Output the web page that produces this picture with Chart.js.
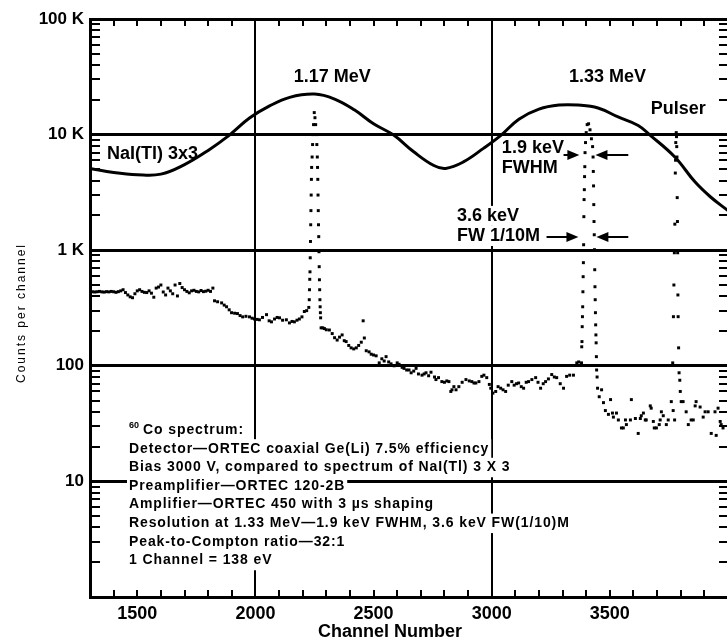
<!DOCTYPE html>
<html>
<head>
<meta charset="utf-8">
<script src="https://cdn.jsdelivr.net/npm/chart.js@4.4.1/dist/chart.umd.min.js"></script>
<style>
  html, body { margin: 0; padding: 0; background: #fff; overflow: hidden; }
  canvas { display: block; }
</style>
</head>
<body>
<canvas id="spectrum" width="732" height="641"></canvas>
<script>
// NaI(Tl) 3x3 spectrum
const naiChannels = [1300, 1400, 1500, 1600, 1700, 1800, 1890, 1975, 2060, 2145, 2250, 2335, 2420, 2500, 2585, 2670,
  2755, 2805, 2880, 2965, 3040, 3115, 3200, 3285, 3365, 3450, 3535, 3620, 3670, 3775, 3860, 3925, 4000];
const naiCounts = [5100, 4700, 4500, 4550, 5500, 7300, 9900, 13900, 17700, 21000, 22400, 20300, 16300, 12400, 9900, 7100,
  5400, 5100, 5800, 7600, 9900, 13600, 16600, 18000, 18000, 17000, 14200, 12000, 9900, 6400, 3900, 2900, 2200];

// Ge(Li) spectrum, dots read channel by channel
const geChannels = [
  1300, 1310, 1320, 1330, 1340, 1350, 1360, 1370, 1380, 1390, 1400, 1410, 1420, 1430, 1440, 1450, 1460, 1470, 1480, 1490,
  1500, 1510, 1520, 1530, 1540, 1550, 1560, 1570, 1580, 1590, 1600, 1610, 1620, 1630, 1640, 1650, 1660, 1670, 1680, 1690,
  1700, 1710, 1720, 1730, 1740, 1750, 1760, 1770, 1780, 1790, 1800, 1810, 1820,
  1827, 1840, 1857, 1868, 1878, 1889, 1899, 1912, 1924, 1935, 1946, 1960, 1975, 1986, 1996, 2007, 2017, 2030, 2047, 2058,
  2068, 2081, 2092, 2102, 2115, 2131, 2144, 2155, 2165, 2176, 2186, 2197, 2207, 2217,
  2226, 2228, 2229, 2230, 2231, 2232, 2233, 2234, 2235, 2236, 2237, 2238, 2240, 2242, 2244, 2246, 2249, 2252, 2255, 2258,
  2260, 2262, 2263, 2264, 2265, 2266, 2267, 2268, 2269, 2270, 2271, 2272, 2273, 2274, 2275, 2276, 2278,
  2285, 2292, 2300, 2313, 2325, 2335, 2346, 2356, 2367, 2376, 2384, 2395, 2405, 2416, 2427, 2437, 2448, 2456, 2461, 2469,
  2481, 2490, 2500, 2511, 2524, 2535, 2545, 2553, 2564, 2574, 2587, 2600, 2608, 2621, 2629, 2640, 2650, 2659, 2670, 2680,
  2690, 2705, 2714, 2722, 2733, 2743, 2758, 2764, 2775, 2789, 2800, 2810, 2819, 2827, 2832, 2840, 2849, 2861, 2875, 2891,
  2905, 2916, 2925, 2933, 2946, 2958, 2967, 2979, 2990, 2996, 3005, 3017, 3027, 3038, 3048, 3059, 3070, 3085, 3095, 3105,
  3114, 3125, 3135, 3146, 3156, 3170, 3186, 3196, 3207, 3218, 3228, 3240, 3254, 3265, 3275, 3290, 3304, 3317, 3330, 3346,
  3360, 3368,
  3380, 3381, 3382, 3383, 3384, 3385, 3386, 3387, 3388, 3389, 3390, 3391, 3392, 3393, 3394, 3395, 3397, 3400, 3404, 3410,
  3416, 3422, 3427, 3429, 3430, 3431, 3432, 3433, 3434, 3435, 3436, 3437, 3438, 3439, 3440, 3441, 3442, 3443, 3444, 3446,
  3448, 3455, 3465, 3473, 3481, 3494, 3503, 3511, 3515, 3528, 3536, 3549, 3557, 3566, 3570, 3587, 3591, 3608, 3620, 3629,
  3633, 3642, 3650, 3654, 3671, 3675, 3684, 3688, 3697, 3709, 3713, 3718, 3726, 3739, 3747, 3760,
  3766, 3768, 3769, 3771, 3773, 3774, 3775, 3777, 3778, 3779, 3781, 3782, 3783, 3784, 3785, 3786, 3787, 3788, 3789, 3791,
  3793, 3796, 3798, 3802, 3810, 3823, 3832, 3844, 3853, 3861, 3865, 3882, 3895, 3903, 3916, 3929, 3945, 3950, 3958, 3967,
  3971, 3979
];
const geCounts = [
  440, 437, 435, 437, 440, 436, 434, 438, 436, 440, 437, 432, 438, 445, 455, 430, 410, 395, 388, 420,
  445, 455, 440, 432, 430, 445, 425, 392, 470, 480, 500, 435, 410, 470, 445, 420, 500, 402, 515, 475,
  455, 440, 428, 445, 450, 440, 436, 448, 438, 442, 450, 440, 470,
  365, 358, 350, 335, 324, 305, 288, 285, 283, 272, 265, 268, 265, 258, 254, 252, 250, 262, 277, 245,
  240, 254, 262, 260, 248, 250, 235, 242, 240, 248, 254, 265, 295, 300,
  320, 373, 455, 560, 650, 860, 1190, 1660, 2200, 3000, 4100, 5200, 6400, 8200, 10000, 12200, 15500, 14000, 12200, 10000,
  8200, 6400, 5200, 4100, 3000, 2200, 1660, 1310, 970, 720, 555, 455, 373, 324, 288, 260, 213,
  213, 210, 205, 204, 190, 175, 167, 177, 185, 165, 162, 150, 143, 140, 143, 150, 160, 245, 174, 135,
  132, 126, 124, 122, 106, 115, 110, 120, 108, 104, 100, 106, 103, 97, 95, 92, 92, 87, 90, 95,
  85, 83, 85, 87, 82, 88, 80, 76, 79, 73, 72, 74, 73, 60, 62, 66, 62, 66, 72, 76,
  74, 73, 71, 71, 73, 81, 83, 79, 69, 64, 58, 60, 66, 64, 62, 60, 68, 73, 68, 70,
  71, 66, 64, 72, 73, 76, 79, 72, 64, 70, 73, 77, 84, 80, 79, 70, 64, 81, 83, 83,
  106, 108,
  106, 146, 162, 218, 266, 324, 437, 590, 780, 1115, 1950, 2740, 3340, 4330, 5280, 6980, 8530, 10400, 12200, 12400,
  11000, 9200, 7870, 6400, 4800, 3600, 2480, 1770, 1360, 1010, 678, 483, 373, 288, 226, 185, 158, 120, 92, 80,
  64, 54, 62, 48, 41, 38, 51, 39, 36, 39, 34, 29, 29, 34, 31, 34, 51, 35, 26, 35,
  37, 39, 34, 34, 45, 43, 33, 29, 29, 31, 34, 40, 37, 31, 34, 49,
  106, 41, 266, 500, 950, 34, 1680, 4650, 6000, 8530, 10400, 9600, 7870, 6400, 2850, 1770, 950, 410, 266, 143,
  87, 75, 60, 49, 49, 40, 31, 34, 34, 45, 49, 44, 36, 40, 40, 26, 40, 25, 43, 33,
  31, 29
];

const xTickValues = [1500, 2000, 2500, 3000, 3500];
const xGridValues = [2000, 3000];
const yTickValues = [1, 10, 100, 1000, 10000, 100000];
const yTickLabels = ['', '10', '100', '1 K', '10 K', '100 K'];

const BOLD = '"Liberation Sans", Arial, sans-serif';

// text placed at (channel, counts)
const peakLabels = [
  { text: '1.17 MeV', ch: 2325, cnt: 31500, align: 'center' },
  { text: '1.33 MeV', ch: 3490, cnt: 31500, align: 'center' },
  { text: 'Pulser', ch: 3789, cnt: 16600, align: 'center' },
  { text: 'NaI(Tl) 3x3', ch: 1372, cnt: 6800, align: 'left' },
  { text: '1.9 keV', ch: 3043, cnt: 7650, align: 'left' },
  { text: 'FWHM', ch: 3043, cnt: 5140, align: 'left' },
  { text: '3.6 keV', ch: 2853, cnt: 1980, align: 'left', bg: true },
  { text: 'FW 1/10M', ch: 2853, cnt: 1327, align: 'left', bg: true }
];

// arrows: from ch1 to tip ch2 at given counts
const arrows = [
  { from: 3304, to: 3371, cnt: 6660 },
  { from: 3578, to: 3439, cnt: 6660 },
  { from: 3232, to: 3367, cnt: 1300 },
  { from: 3578, to: 3443, cnt: 1300 }
];

const infoLines = [
  'Co spectrum:',
  'Detector\u2014ORTEC coaxial Ge(Li) 7.5% efficiency',
  'Bias 3000 V, compared to spectrum of NaI(Tl) 3 X 3',
  'Preamplifier\u2014ORTEC 120-2B',
  'Amplifier\u2014ORTEC 450 with 3 \u00b5s shaping',
  'Resolution at 1.33 MeV\u20141.9 keV FWHM, 3.6 keV FW(1/10)M',
  'Peak-to-Compton ratio\u201432:1',
  '1 Channel = 138 eV'
];

function drawArrow(ctx, x1, x2, y) {
  const dir = x2 > x1 ? 1 : -1;
  ctx.beginPath();
  ctx.moveTo(x1, y);
  ctx.lineTo(x2 - dir * 8, y);
  ctx.lineWidth = 2;
  ctx.stroke();
  ctx.beginPath();
  ctx.moveTo(x2, y);
  ctx.lineTo(x2 - dir * 12, y - 5);
  ctx.lineTo(x2 - dir * 12, y + 5);
  ctx.closePath();
  ctx.fill();
}

const decorations = {
  id: 'decorations',
  afterDatasetsDraw(chart) {
    const { ctx, chartArea: area } = chart;
    const x = chart.scales.x, y = chart.scales.y;
    ctx.save();
    ctx.fillStyle = '#000';
    ctx.strokeStyle = '#000';

    // inward minor ticks
    ctx.lineWidth = 2;
    ctx.beginPath();
    for (let c = 1400; c < 4000; c += 100) {
      const px = Math.round(x.getPixelForValue(c));
      ctx.moveTo(px, area.top);
      ctx.lineTo(px, area.top + 7);
      ctx.moveTo(px, area.bottom);
      ctx.lineTo(px, area.bottom - 7);
    }
    for (let d = 1; d < 100000; d *= 10) {
      for (let m = 2; m <= 9; m++) {
        const py = Math.round(y.getPixelForValue(d * m));
        ctx.moveTo(area.left, py);
        ctx.lineTo(area.left + 10, py);
        ctx.moveTo(area.right, py);
        ctx.lineTo(area.right - 9, py);
      }
    }
    ctx.stroke();

    // peak labels
    ctx.font = 'bold 18px ' + BOLD;
    ctx.textBaseline = 'middle';
    peakLabels.forEach(l => {
      const px = x.getPixelForValue(l.ch), py = y.getPixelForValue(l.cnt);
      ctx.textAlign = l.align;
      if (l.bg) {
        const w = ctx.measureText(l.text).width;
        ctx.fillStyle = '#fff';
        ctx.fillRect(px - 3, py - 10, w + 6, 20);
        ctx.fillStyle = '#000';
      }
      ctx.fillText(l.text, px, py);
    });

    arrows.forEach(a => {
      drawArrow(ctx, x.getPixelForValue(a.from), x.getPixelForValue(a.to), Math.round(y.getPixelForValue(a.cnt)));
    });

    // info block
    const left = x.getPixelForValue(1465);
    const top = y.getPixelForValue(27.8);
    ctx.textAlign = 'left';
    ctx.font = 'bold 14px ' + BOLD;
    ctx.letterSpacing = '0.9px';
    infoLines.forEach((line, i) => {
      const ly = top + i * 18.6;
      let lx = left;
      let w = ctx.measureText(line).width;
      if (i === 0) w += 14;
      ctx.fillStyle = '#fff';
      ctx.fillRect(lx - 2, ly - 9.5, w + 4, 19.5);
      ctx.fillStyle = '#000';
      if (i === 0) {
        ctx.font = 'bold 9px ' + BOLD;
        ctx.letterSpacing = '0px';
        ctx.fillText('60', lx, ly - 5);
        ctx.font = 'bold 14px ' + BOLD;
        ctx.letterSpacing = '0.9px';
        lx += 14;
      }
      ctx.fillText(line, lx, ly);
    });
    ctx.letterSpacing = '0px';

    // axis titles
    ctx.font = 'bold 18px ' + BOLD;
    ctx.textAlign = 'center';
    ctx.fillText('Channel Number', 390, 632);

    ctx.save();
    ctx.translate(22, 313);
    ctx.rotate(-Math.PI / 2);
    ctx.font = '12px ' + BOLD;
    ctx.letterSpacing = '2px';
    ctx.fillText('Counts per channel', 0, 0);
    ctx.restore();

    ctx.restore();
  }
};

new Chart(document.getElementById('spectrum'), {
  type: 'scatter',
  data: {
    datasets: [{
      label: 'NaI(Tl) 3x3',
      data: naiChannels.map((c, i) => ({ x: c, y: naiCounts[i] })),
      showLine: true,
      borderColor: '#000',
      borderWidth: 3,
      pointRadius: 0,
      tension: 0.4
    }, {
      label: 'Ge(Li)',
      data: geChannels.map((c, i) => ({ x: c, y: geCounts[i] })),
      showLine: false,
      pointStyle: 'rect',
      pointRadius: 2.1,
      pointBorderWidth: 0,
      backgroundColor: '#000',
      borderColor: '#000'
    }]
  },
  options: {
    responsive: false,
    animation: false,
    layout: { padding: { top: 19, right: 2, left: 0, bottom: 0 } },
    plugins: { legend: { display: false }, tooltip: { enabled: false } },
    scales: {
      x: {
        type: 'linear',
        min: 1300,
        max: 4000,
        afterBuildTicks: scale => { scale.ticks = xTickValues.map(v => ({ value: v })); },
        afterFit: scale => { scale.height = 44; },
        ticks: {
          autoSkip: false,
          maxRotation: 0,
          padding: 6,
          color: '#000',
          font: { family: BOLD, size: 18, weight: 'bold' },
          callback: v => String(v)
        },
        grid: {
          drawTicks: false,
          lineWidth: 2,
          color: c => xGridValues.includes(c.tick && c.tick.value) ? '#000' : 'rgba(0,0,0,0)'
        },
        border: { display: true, color: '#000', width: 3 }
      },
      y: {
        type: 'logarithmic',
        min: 1,
        max: 100000,
        afterBuildTicks: scale => { scale.ticks = yTickValues.map(v => ({ value: v })); },
        afterFit: scale => { scale.width = 90; },
        ticks: {
          autoSkip: false,
          padding: 6,
          color: '#000',
          font: { family: BOLD, size: 17, weight: 'bold' },
          callback: v => { const i = yTickValues.indexOf(v); return i >= 0 ? yTickLabels[i] : ''; }
        },
        grid: {
          drawTicks: false,
          lineWidth: 3,
          color: '#000'
        },
        border: { display: true, color: '#000', width: 3 }
      }
    }
  },
  plugins: [decorations]
});
</script>
</body>
</html>
